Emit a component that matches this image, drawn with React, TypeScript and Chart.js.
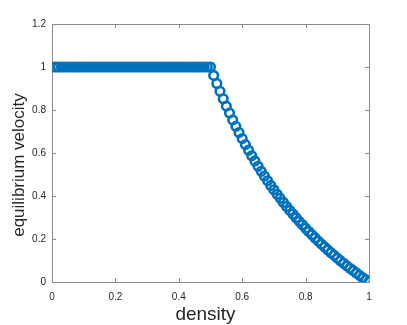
import React, { useEffect, useRef } from "react";
import { Chart, registerables } from "chart.js";

Chart.register(...registerables);

const density: number[] = [
  0.01, 0.02, 0.03, 0.04, 0.05, 0.06, 0.07, 0.08, 0.09, 0.1,
  0.11, 0.12, 0.13, 0.14, 0.15, 0.16, 0.17, 0.18, 0.19, 0.2,
  0.21, 0.22, 0.23, 0.24, 0.25, 0.26, 0.27, 0.28, 0.29, 0.3,
  0.31, 0.32, 0.33, 0.34, 0.35, 0.36, 0.37, 0.38, 0.39, 0.4,
  0.41, 0.42, 0.43, 0.44, 0.45, 0.46, 0.47, 0.48, 0.49, 0.5,
  0.51, 0.52, 0.53, 0.54, 0.55, 0.56, 0.57, 0.58, 0.59, 0.6,
  0.61, 0.62, 0.63, 0.64, 0.65, 0.66, 0.67, 0.68, 0.69, 0.7,
  0.71, 0.72, 0.73, 0.74, 0.75, 0.76, 0.77, 0.78, 0.79, 0.8,
  0.81, 0.82, 0.83, 0.84, 0.85, 0.86, 0.87, 0.88, 0.89, 0.9,
  0.91, 0.92, 0.93, 0.94, 0.95, 0.96, 0.97, 0.98, 0.99, 1.0,
];

const velocity: number[] = [
  1, 1, 1, 1, 1, 1, 1, 1, 1, 1,
  1, 1, 1, 1, 1, 1, 1, 1, 1, 1,
  1, 1, 1, 1, 1, 1, 1, 1, 1, 1,
  1, 1, 1, 1, 1, 1, 1, 1, 1, 1,
  1, 1, 1, 1, 1, 1, 1, 1, 1, 1,
  0.961, 0.923, 0.887, 0.852, 0.818, 0.786, 0.754, 0.724, 0.695, 0.667,
  0.639, 0.613, 0.587, 0.563, 0.538, 0.515, 0.493, 0.471, 0.449, 0.429,
  0.408, 0.389, 0.37, 0.351, 0.333, 0.316, 0.299, 0.282, 0.266, 0.25,
  0.235, 0.22, 0.205, 0.19, 0.176, 0.163, 0.149, 0.136, 0.124, 0.111,
  0.099, 0.087, 0.075, 0.064, 0.053, 0.042, 0.031, 0.02, 0.01, 0.0,
];

const xTickLabels: string[] = ["0", "0.2", "0.4", "0.6", "0.8", "1"];
const yTickLabels: string[] = ["0", "0.2", "0.4", "0.6", "0.8", "1", "1.2"];
const xTitle = "density";
const yTitle = "equilibrium velocity";

const AXIS_COLOR = "#8a8a8a";
const TEXT_COLOR = "#262626";
const FONT = "'Liberation Sans', Arial, Helvetica, sans-serif";

const boxPlugin = {
  id: "matlabBox",
  beforeDatasetsDraw(chart: any) {
    const { ctx, chartArea } = chart;
    const { left, right, top, bottom } = chartArea;
    const xs = chart.scales.x;
    const ys = chart.scales.y;
    const tl = 4;
    ctx.save();
    ctx.strokeStyle = AXIS_COLOR;
    ctx.lineWidth = 1;
    ctx.beginPath();
    ctx.rect(Math.round(left) + 0.5, Math.round(top) + 0.5, Math.round(right - left), Math.round(bottom - top));
    xs.ticks.forEach((t: any) => {
      const px = Math.round(xs.getPixelForValue(t.value)) + 0.5;
      ctx.moveTo(px, bottom);
      ctx.lineTo(px, bottom - tl);
      ctx.moveTo(px, top);
      ctx.lineTo(px, top + tl);
    });
    ys.ticks.forEach((t: any) => {
      const py = Math.round(ys.getPixelForValue(t.value)) + 0.5;
      ctx.moveTo(left, py);
      ctx.lineTo(left + tl, py);
      ctx.moveTo(right, py);
      ctx.lineTo(right - tl, py);
    });
    ctx.stroke();
    ctx.restore();
  },
  afterDraw(chart: any) {
    const { ctx, chartArea } = chart;
    ctx.save();
    ctx.fillStyle = TEXT_COLOR;
    ctx.textAlign = "center";
    ctx.textBaseline = "alphabetic";
    ctx.font = `19px ${FONT}`;
    ctx.fillText(xTitle, (chartArea.left + chartArea.right) / 2 - 5, 320);
    ctx.translate(23.5, (chartArea.top + chartArea.bottom) / 2 + 12);
    ctx.rotate(-Math.PI / 2);
    ctx.font = `17px ${FONT}`;
    ctx.fillText(yTitle, 0, 0);
    ctx.restore();
  },
};

export default function App() {
  const canvasRef = useRef<HTMLCanvasElement | null>(null);

  useEffect(() => {
    document.body.style.margin = "0";
    const canvas = canvasRef.current;
    if (!canvas) return;
    const points = density.map((d, i) => ({ x: d, y: velocity[i] }));
    const chart = new Chart(canvas, {
      type: "scatter",
      data: {
        datasets: [
          {
            data: points,
            showLine: false,
            pointStyle: "circle",
            pointRadius: 4.3,
            pointBorderWidth: 2.6,
            pointBorderColor: "#0072BD",
            pointBackgroundColor: "rgba(255,255,255,0)",
          },
        ],
      },
      options: {
        responsive: false,
        animation: false,
        devicePixelRatio: 1,
        layout: { padding: { top: 24, right: 38, left: 0, bottom: 0 } },
        plugins: {
          legend: { display: false },
          tooltip: { enabled: false },
        },
        scales: {
          x: {
            type: "linear",
            min: 0,
            max: 1,
            grid: { display: false, drawTicks: false },
            border: { display: false },
            ticks: {
              stepSize: 0.2,
              padding: 9,
              color: TEXT_COLOR,
              font: { family: FONT, size: 10 },
              maxRotation: 0,
              callback: (_v: any, i: number) => xTickLabels[i],
            },
            afterFit: (s: any) => {
              s.height = 43;
            },
          },
          y: {
            type: "linear",
            min: 0,
            max: 1.2,
            grid: { display: false, drawTicks: false },
            border: { display: false },
            ticks: {
              stepSize: 0.2,
              padding: 6,
              color: TEXT_COLOR,
              font: { family: FONT, size: 10 },
              callback: (_v: any, i: number) => yTickLabels[i],
            },
            afterFit: (s: any) => {
              s.width = 52;
            },
          },
        },
      },
      plugins: [boxPlugin],
    });
    return () => chart.destroy();
  }, []);

  return (
    <div style={{ position: "absolute", left: 0, top: 0, width: 407, height: 325, background: "#fff" }}>
      <canvas ref={canvasRef} width={407} height={325} />
    </div>
  );
}
